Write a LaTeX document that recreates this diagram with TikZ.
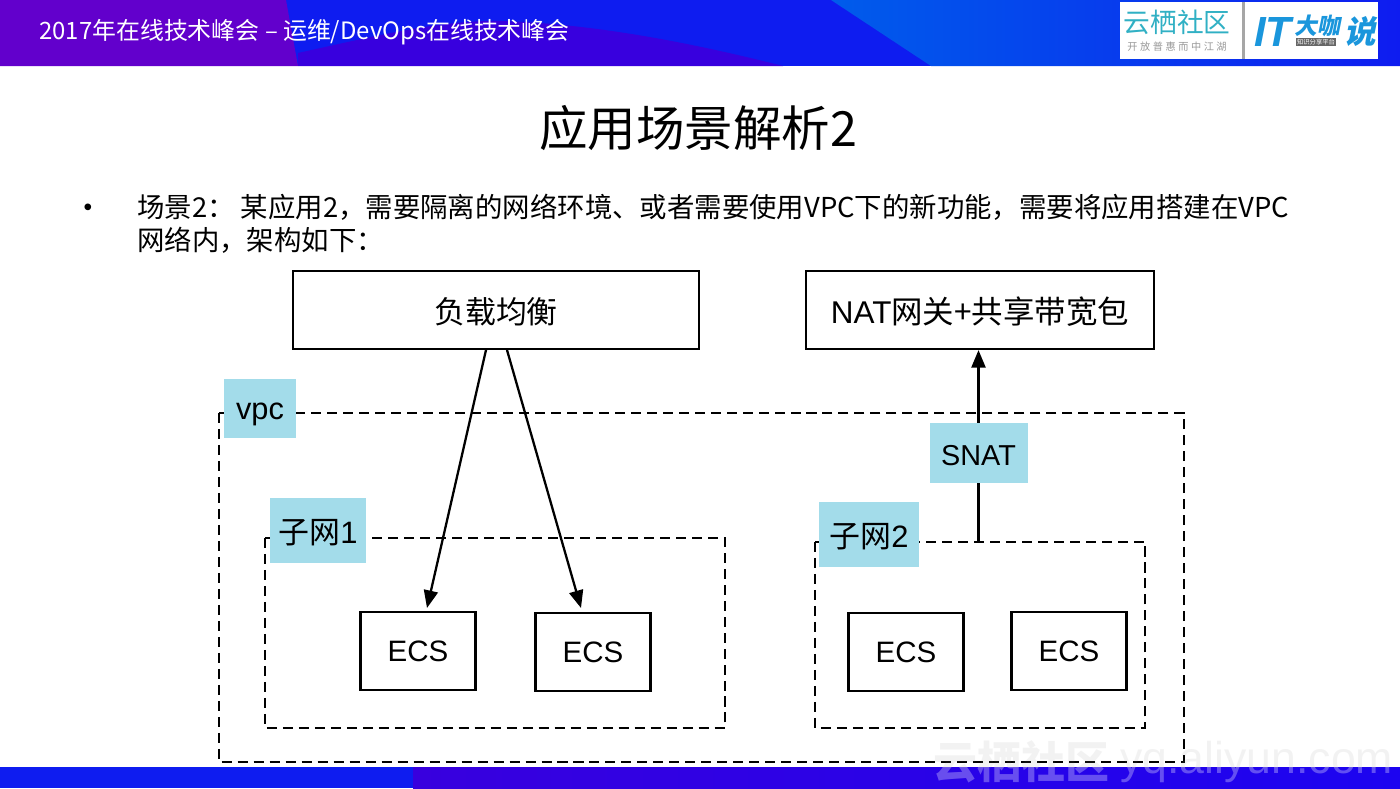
\documentclass[tikz,border=0pt]{standalone}
\usepackage{fontspec}
\setmainfont{Noto Sans CJK SC}
\newfontfamily\latinfont{Liberation Sans}
\newfontfamily\logosmall[LetterSpace=25]{Noto Sans CJK SC}
\newfontfamily\logoslant[FakeSlant=0.2]{Noto Sans CJK SC}
\usetikzlibrary{positioning,arrows.meta}
\definecolor{barblue}{RGB}{14,28,240}
\definecolor{barsky}{RGB}{0,92,235}
\definecolor{barviolet}{RGB}{98,0,204}
\definecolor{barindigo}{RGB}{56,0,222}
\definecolor{barend}{RGB}{28,4,240}
\definecolor{tagblue}{RGB}{163,220,234}
\definecolor{logoteal}{RGB}{48,176,196}
\definecolor{logoblue}{RGB}{26,150,220}
\tikzset{
  box/.style={draw=black,line width=1.25pt,fill=white,inner sep=0pt,text height=17pt,font=\fontsize{17.6}{18}\selectfont},
  ecsbox/.style={box,minimum width=2.3cm,minimum height=1.56cm,text height=12pt,font=\latinfont\fontsize{16.8}{17}\selectfont},
  tag/.style={fill=tagblue,inner sep=0pt,text height=17pt,font=\fontsize{17.6}{18}\selectfont},
  zone/.style={draw=black,line width=1.2pt,dash pattern=on 5.7pt off 3.4pt},
  link/.style={draw=black,line width=1.3pt,-{Triangle[length=10pt,width=8pt]}},
  bodytext/.style={anchor=west,inner sep=0pt,font=\fontsize{15.6}{16}\selectfont},
  markgray/.style={text=gray,opacity=.1,anchor=west,inner sep=0pt},
  markwhite/.style={text=white,opacity=.3,anchor=west,inner sep=0pt}
}
\begin{document}
\begin{tikzpicture}[x=0.02cm,y=-0.02cm]
    \useasboundingbox (0,0) rectangle (1400,788);

    % Bandeau du haut
    \fill[barblue] (0,0) rectangle (1400,66);
    \shade[left color=barsky,right color=barblue] (831,0) -- (1400,0) -- (1400,66) -- (931,66) -- cycle;
    \fill[barindigo] (298,66) -- (298,53) .. controls (380,35) and (440,20) .. (501,21) .. controls (600,24) and (700,45) .. (783,66) -- cycle;
    \fill[barviolet] (0,0) -- (286,0) -- (298,66) -- (0,66) -- cycle;
    \node[text=white,anchor=west,inner sep=0pt,font=\fontsize{13.6}{14}\selectfont] (conf) at (39,32) {2017年在线技术峰会 – 运维/DevOps在线技术峰会};

    % Logos
    \fill[white] (1120,2) rectangle (1378,59);
    \fill[gray!70] (1242,2) rectangle (1245,59);
    \node[text=logoteal,font=\fontsize{15.2}{16}\selectfont] (logoa) at (1177,22) {云栖社区};
    \node[text=gray!80,font=\logosmall\fontsize{5.8}{6}\selectfont] (logob) at (1177,47) {开放普惠而中江湖};
    \node[text=logoblue,font=\latinfont\fontsize{24}{24}\selectfont\bfseries\itshape] (logoc) at (1273,32) {IT};
    \node[text=logoblue,inner sep=0pt,font=\logoslant\fontsize{13}{13}\selectfont\bfseries] (logod) at (1317,26) {大咖};
    \node[text=logoblue,font=\logoslant\fontsize{18}{18}\selectfont\bfseries] (logoe) at (1360,31) {说};
    \node[fill=gray!80!black,text=white,inner sep=.5pt,font=\fontsize{3.6}{4}\selectfont] (logof) at (1316,42) {知识分享平台};

    % Bandeau du bas
    \fill[barblue] (0,767) rectangle (413,788);
    \shade[left color=barindigo,right color=barend] (413,767) rectangle (1400,788);

    % Titre et texte
    \node[font=\fontsize{27.6}{28}\selectfont] (title) at (698,128) {应用场景解析2};
    \node[font=\latinfont\fontsize{14}{14}\selectfont] (dot) at (88,210) {•};
    \node[bodytext] (linea) at (137,207) {场景2： 某应用2，需要隔离的网络环境、或者需要使用VPC下的新功能，需要将应用搭建在VPC};
    \node[bodytext] (lineb) at (137,240) {网络内，架构如下：};

    % Zones en pointillés
    \draw[zone] (219,413) rectangle (1184,762);
    \draw[zone] (265,538) rectangle (725,728);
    \draw[zone] (815,542) rectangle (1145,728);

    % Boîtes
    \node[box,minimum width=8.12cm,minimum height=1.56cm] (slb) at (496,310) {负载均衡};
    \node[box,minimum width=6.96cm,minimum height=1.56cm,font=\fontsize{17.9}{18}\selectfont] (nat) at (980,310) {{\latinfont NAT}网关+共享带宽包};
    \node[ecsbox] (ecsa) at (418,651) {ECS};
    \node[ecsbox] (ecsb) at (593,652) {ECS};
    \node[ecsbox] (ecsc) at (906,652) {ECS};
    \node[ecsbox] (ecsd) at (1069,651) {ECS};

    % Étiquettes
    \node[tag,minimum width=1.46cm,minimum height=1.18cm,text height=17pt,font=\latinfont\fontsize{17.5}{18}\selectfont] (vpc) at (260,408) {vpc};
    \node[tag,minimum width=1.92cm,minimum height=1.3cm] (neta) at (318,530) {子网{\latinfont 1}};
    \node[tag,minimum width=2.02cm,minimum height=1.3cm] (netb) at (869,534) {子网{\latinfont 2}};
    \node[tag,minimum width=1.96cm,minimum height=1.2cm,text height=14pt,font=\latinfont\fontsize{16.4}{17}\selectfont] (snat) at (978.5,453) {SNAT};

    % Flèches
    \coordinate (slbl) at (486,350);
    \coordinate (slbr) at (507,350);
    \coordinate (ecsat) at (427,608);
    \coordinate (ecsbt) at (581,608);
    \coordinate (zonetop) at (978.5,542);
    \draw[link] (slbl) -- (ecsat);
    \draw[link] (slbr) -- (ecsbt);
    \draw[line width=1.3pt] (zonetop) -- (snat);
    \draw[link] (snat) -- (snat |- nat.south);

    % Filigrane
    \begin{scope}
        \clip (900,730) rectangle (1400,767);
        \node[markgray,font=\fontsize{25}{25}\selectfont\bfseries] (marka) at (933,762) {云栖社区};
        \node[markgray,font=\latinfont\fontsize{25.4}{26}\selectfont] (markb) at (1120,762) {yq.aliyun.com};
    \end{scope}
    \begin{scope}
        \clip (900,767) rectangle (1400,788);
        \node[markwhite,font=\fontsize{25}{25}\selectfont\bfseries] (markc) at (933,762) {云栖社区};
        \node[markwhite,font=\latinfont\fontsize{25.4}{26}\selectfont] (markd) at (1120,762) {yq.aliyun.com};
    \end{scope}
\end{tikzpicture}
\end{document}
